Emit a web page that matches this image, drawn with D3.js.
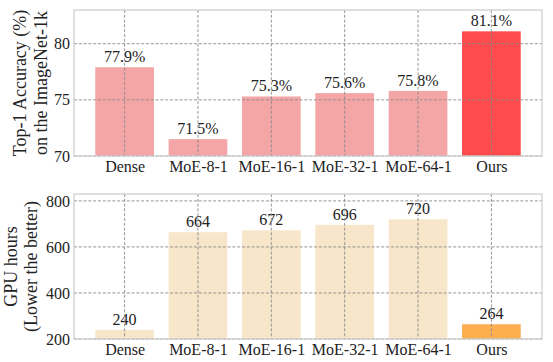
<!DOCTYPE html>
<html>
<head>
<meta charset="utf-8">
<script src="https://cdn.jsdelivr.net/npm/d3@7/dist/d3.min.js"></script>
<style>
  html, body { margin: 0; padding: 0; background: #fff; }
  svg { display: block; }
</style>
</head>
<body>
<svg id="chart" width="553" height="362" font-family="'Liberation Serif', 'Times New Roman', Times, serif"></svg>
<script>
const categories = ["Dense", "MoE-8-1", "MoE-16-1", "MoE-32-1", "MoE-64-1", "Ours"];
const accuracy = [77.9, 71.5, 75.3, 75.6, 75.8, 81.1];
const gpuHours = [240, 664, 672, 696, 720, 264];
const accTicks = [70, 75, 80];
const gpuTicks = [200, 400, 600, 800];
const accLabels = accuracy.map(v => v.toFixed(1) + "%");
const gpuLabels = gpuHours.map(v => String(v));

const FONT = "'Liberation Serif', 'Times New Roman', Times, serif";
const svg = d3.select("#chart");
const left = 74, right = 542;

const x = d3.scaleLinear().domain([-0.69, categories.length - 1 + 0.69]).range([left, right]);
const barW = x(0.4) - x(-0.4);

function panel(cfg) {
  const g = svg.append("g").attr("font-family", FONT);
  const y = d3.scaleLinear().domain(cfg.domain).range([cfg.bottom, cfg.top]);

  g.selectAll("rect.bar").data(cfg.values).join("rect")
    .attr("class", "bar")
    .attr("x", (d, i) => x(i) - barW / 2)
    .attr("width", barW)
    .attr("y", d => y(d))
    .attr("height", d => y(cfg.domain[0]) - y(d))
    .attr("fill", (d, i) => i === cfg.values.length - 1 ? cfg.hi : cfg.base);

  g.selectAll("text.val").data(cfg.values).join("text")
    .attr("class", "val")
    .attr("x", (d, i) => x(i))
    .attr("y", d => y(d) - 5)
    .attr("text-anchor", "middle")
    .attr("font-family", FONT)
    .attr("font-size", 16)
    .attr("fill", "#222")
    .text((d, i) => cfg.labels[i]);

  const grid = g.append("g").attr("stroke", "#8a8a8a").attr("stroke-width", 0.9)
    .attr("stroke-dasharray", "3,1.8").attr("fill", "none");
  cfg.ticks.forEach(t => {
    grid.append("line").attr("x1", left).attr("x2", right).attr("y1", y(t)).attr("y2", y(t));
  });
  categories.forEach((c, i) => {
    grid.append("line").attr("x1", x(i)).attr("x2", x(i)).attr("y1", cfg.top).attr("y2", cfg.bottom);
  });

  g.append("rect").attr("x", left).attr("y", cfg.top)
    .attr("width", right - left).attr("height", cfg.bottom - cfg.top)
    .attr("fill", "none").attr("stroke", "#cfcfcf").attr("stroke-width", 1.3);

  const ya = g.append("g").attr("transform", `translate(${left},0)`)
    .call(d3.axisLeft(y).tickValues(cfg.ticks).tickSize(0).tickPadding(4));
  ya.attr("font-family", FONT).attr("font-size", 16);
  ya.select(".domain").remove();
  ya.selectAll("text").attr("fill", "#222");

  const xa = g.append("g").attr("transform", `translate(0,${cfg.bottom})`)
    .call(d3.axisBottom(x).tickValues(d3.range(categories.length)).tickFormat(i => categories[i]).tickSize(0).tickPadding(5));
  xa.attr("font-family", FONT).attr("font-size", 16);
  xa.select(".domain").remove();
  xa.selectAll("text").attr("fill", "#222");

  const cy = (cfg.top + cfg.bottom) / 2;
  cfg.ylabel.forEach((line, k) => {
    g.append("text")
      .attr("transform", `translate(${cfg.labelX[k]},${cy}) rotate(-90)`)
      .attr("text-anchor", "middle")
      .attr("font-family", FONT)
      .attr("font-size", 18)
      .attr("fill", "#222")
      .text(line);
  });
}

panel({
  values: accuracy, labels: accLabels, ticks: accTicks,
  domain: [70, 83], top: 10, bottom: 156,
  base: "#f4a5a5", hi: "#ff4b4b",
  ylabel: ["Top-1 Accuracy (%)", "on the ImageNet-1k"], labelX: [26, 47]
});

panel({
  values: gpuHours, labels: gpuLabels, ticks: gpuTicks,
  domain: [200, 830], top: 194, bottom: 339,
  base: "#f7e6c9", hi: "#fdae4f",
  ylabel: ["GPU hours", "(Lower the better)"], labelX: [17, 37]
});
</script>
</body>
</html>
